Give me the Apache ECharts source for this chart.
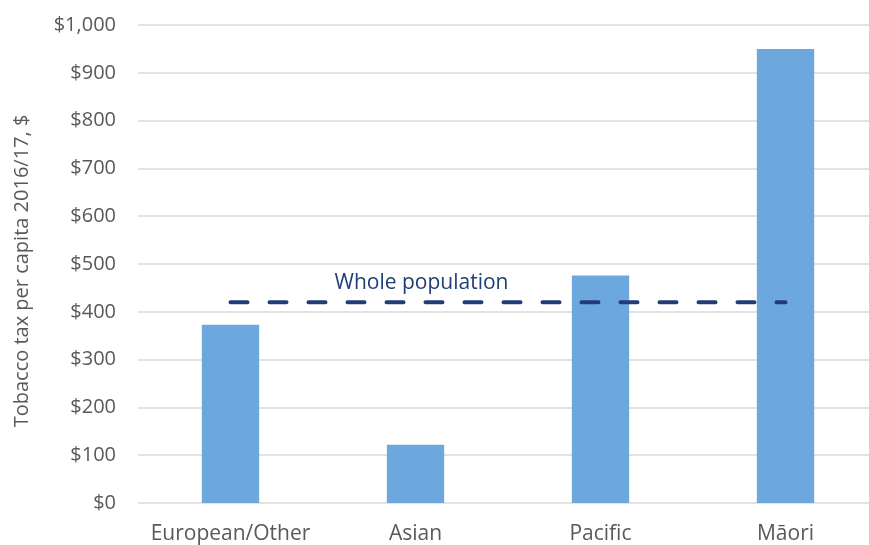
<!DOCTYPE html>
<html><head><meta charset="utf-8">
<script src="https://cdn.jsdelivr.net/npm/echarts@6/dist/echarts.min.js"></script>
<style>html,body{margin:0;padding:0;background:#fff}#c{width:869px;height:545px}</style>
</head><body><div id="c"></div>
<script>
const categories = ['European/Other', 'Asian', 'Pacific', 'Māori'];
const taxPerCapita = [373, 122, 476, 950];
const wholePopulation = [420, 420, 420, 420];
const yTicks = {min: 0, max: 1000, interval: 100};

const chart = echarts.init(document.getElementById('c'));
const font = 'Open Sans';
chart.setOption({
  animation: false,
  grid: {left: 138, top: 25, width: 740, height: 478, containLabel: false, outerBoundsMode: 'none'},
  xAxis: {
    type: 'category', data: categories,
    axisLine: {show: false}, axisTick: {show: false},
    axisLabel: {color: '#595959', fontFamily: font, fontSize: 21, margin: 21, interval: 0}
  },
  yAxis: {
    type: 'value', min: yTicks.min, max: yTicks.max, interval: yTicks.interval,
    name: 'Tobacco tax per capita 2016/17, $', nameLocation: 'middle', nameGap: 106,
    nameTextStyle: {color: '#595959', fontFamily: font, fontSize: 20, padding: [0, 14, 0, 0]},
    axisLine: {show: false}, axisTick: {show: false},
    axisLabel: {color: '#595959', fontFamily: font, fontSize: 20, margin: 22,
      formatter: v => '$' + v.toLocaleString('en-US')},
    splitLine: {lineStyle: {color: '#d9d9d9', width: 1.5}}
  },
  series: [
    {type: 'bar', data: taxPerCapita, barWidth: '31%', itemStyle: {color: '#6CA8DE'}},
    {type: 'line', data: wholePopulation,
      symbol: 'none', z: 5,
      lineStyle: {color: '#203D77', width: 4, type: [17, 22], cap: 'round'},
      markPoint: {
        symbol: 'circle', symbolSize: 0,
        data: [{coord: [1, wholePopulation[1]], value: 'Whole population'}],
        label: {show: true, formatter: 'Whole population', position: 'top', distance: 9,
          offset: [6, 0], color: '#203D77', fontFamily: font, fontSize: 21}
      }}
  ]
});
</script></body></html>
